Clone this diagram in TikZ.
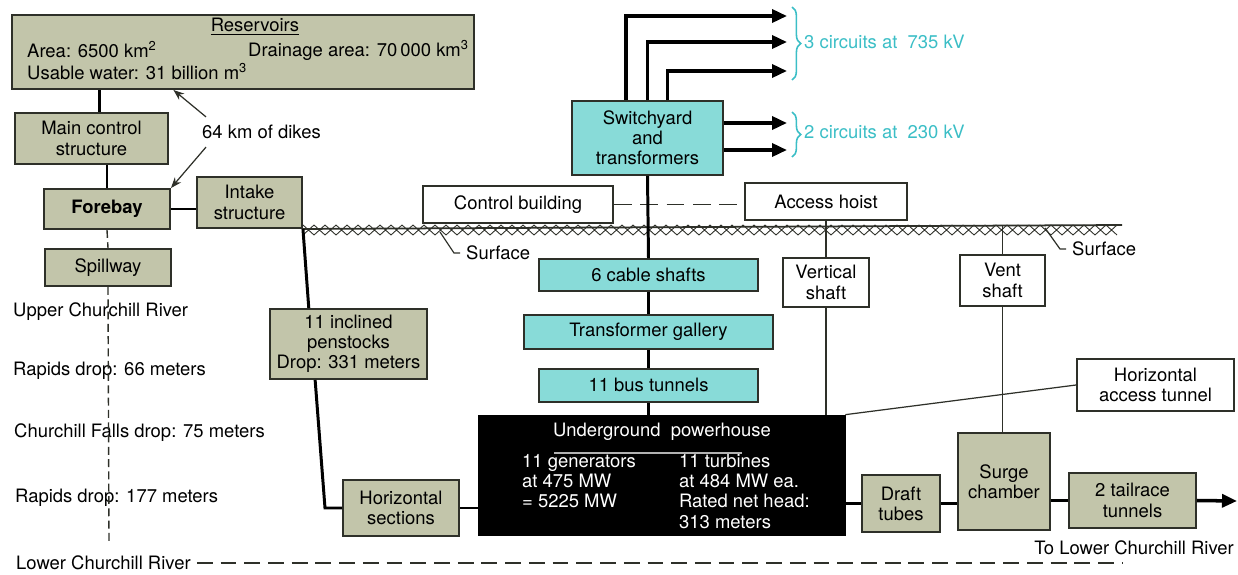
\documentclass[tikz,border=0pt]{standalone}
\usepackage{fontspec}
\setmainfont{TeX Gyre Heros}
\usepackage{xcolor}
\definecolor{sage}{HTML}{C2C5AA}
\definecolor{aqua}{HTML}{88DBD8}
\definecolor{circuit}{HTML}{3BBEC6}
\definecolor{ink}{HTML}{2E3029}
\usepackage{tikz}
\usetikzlibrary{arrows.meta, positioning, calc, decorations.pathreplacing}

\begin{document}
\begin{tikzpicture}[x=0.02cm, y=-0.02cm, >=Stealth,
  font=\fontsize{10.5}{11.5}\selectfont,
  gbox/.style={draw=ink, fill=sage, line width=1.1pt, inner sep=1pt, align=center},
  cbox/.style={draw=ink, fill=aqua, line width=1.1pt, inner sep=1pt, align=center},
  wbox/.style={draw=ink, fill=white, line width=1.1pt, inner sep=1pt, align=center},
  link/.style={line width=1.7pt, black},
  thinlink/.style={line width=0.7pt, ink},
  feed/.style={line width=2pt, -{Triangle[length=0.3cm, width=0.26cm]}},
  river/.style={line width=0.8pt, ink, dash pattern=on 4.5pt off 2.5pt},
  lowriver/.style={line width=0.8pt, ink, dash pattern=on 9pt off 4.5pt}]

  \useasboundingbox (0,0) rectangle (1238,575);

  % reservoir and intake side
  \node[gbox, minimum width=9.24cm, minimum height=1.48cm] (res) at (243,52) {};
  \node (reshead) at (255,27) {\underline{Reservoirs}};
  \node[anchor=west] (area) at (21,50) {Area: 6500 km\textsuperscript{2}};
  \node[anchor=west] (drain) at (242,50) {Drainage area: 70\,000 km\textsuperscript{3}};
  \node[anchor=west] (usable) at (21,72) {Usable water: 31 billion m\textsuperscript{3}};

  \node[gbox, minimum width=3.06cm, minimum height=1.02cm] (mcs) at (91.5,138.5) {Main control\\structure};
  \node[gbox, minimum width=2.52cm, minimum height=0.8cm] (fore) at (107,209) {\bfseries Forebay};
  \node[gbox, minimum width=2.1cm, minimum height=1.02cm] (intake) at (249.5,202.5) {Intake\\structure};
  \node[gbox, minimum width=2.52cm, minimum height=0.74cm] (spill) at (108,267.5) {Spillway};
  \node[anchor=west] (dikes) at (196,132) {64 km of dikes};

  \node[gbox, minimum width=3.14cm, minimum height=1.4cm] (pen) at (348.5,344) {11 inclined\\penstocks\\Drop: 331 meters};
  \node[gbox, minimum width=2.32cm, minimum height=1.12cm] (hsec) at (401,508) {Horizontal\\sections};

  % river profile
  \node[anchor=west] (upper) at (7,312) {Upper Churchill River};
  \node[anchor=west] (rap1) at (7,371) {Rapids drop: 66 meters};
  \node[anchor=west] (falls) at (8,433) {Churchill Falls drop: 75 meters};
  \node[anchor=west] (rap2) at (9,498) {Rapids drop: 177 meters};
  \node[anchor=west] (lower) at (10,563) {Lower Churchill River};
  \coordinate (riverfoot) at (109,543);
  \coordinate (riverend) at (1123,563);

  % surface works
  \node[cbox, minimum width=3.02cm, minimum height=1.48cm] (switch) at (647.5,138) {Switchyard\\and\\transformers};
  \node[wbox, minimum width=3.8cm, minimum height=0.74cm] (ctrl) at (518,204.5) {Control building};
  \node[wbox, minimum width=3.24cm, minimum height=0.74cm] (hoist) at (826,201.5) {Access hoist};
  \coordinate (out1) at (787,16);
  \coordinate (out2) at (787,42);
  \coordinate (out3) at (787,71);
  \coordinate (out4) at (787,123);
  \coordinate (out5) at (787,150);
  \node[anchor=west, text=circuit] (hv) at (798,42) {3 circuits at\ \ 735 kV};
  \node[anchor=west, text=circuit] (lv) at (798,132) {2 circuits at\ \ 230 kV};

  % underground works
  \coordinate (gnd) at (0,225);
  \coordinate (gndend) at (1122,225);
  \node[cbox, minimum width=4.38cm, minimum height=0.64cm] (cable) at (648.5,275) {6 cable shafts};
  \node[cbox, minimum width=4.98cm, minimum height=0.68cm, below=0.44cm of cable] (tgal) {Transformer gallery};
  \node[cbox, minimum width=4.38cm, minimum height=0.66cm, below=0.36cm of tgal] (bus) {11 bus tunnels};
  \node[wbox, minimum width=1.72cm, minimum height=0.98cm] (vshaft) at (826,282.5) {Vertical\\shaft};
  \node[wbox, minimum width=1.7cm, minimum height=1.02cm] (vent) at (1002.5,280.5) {Vent\\shaft};
  \node[wbox, minimum width=3.14cm, minimum height=1.04cm] (hacc) at (1155.5,385) {Horizontal\\access tunnel};
  \node[anchor=west] (surf1) at (460,253) {Surface};
  \node[anchor=west] (surf2) at (1066,249) {Surface};

  \node[draw=black, fill=black, minimum width=7.34cm, minimum height=2.4cm] (ph) at (661.5,475) {};
  \node[text=white] (phtitle) at (662,432) {Underground\ \ powerhouse};
  \node[text=white, anchor=north west, align=left, inner sep=1pt] (gen) at (520,452)
    {11 generators\\at 475 MW\\= 5225 MW};
  \node[text=white, anchor=north west, align=left, inner sep=1pt] (turb) at (677,452)
    {11 turbines\\at 484 MW ea.\\Rated net head:\\313 meters};

  \node[gbox, minimum width=1.56cm, minimum height=1.14cm] (draft) at (901,503.5) {Draft\\tubes};
  \node[gbox, minimum width=1.84cm, minimum height=1.94cm] (surge) at (1004,481.5) {Surge\\chamber};
  \node[gbox, minimum width=2.54cm, minimum height=1.1cm] (tail) at (1132.5,500.5) {2 tailrace\\tunnels};
  \coordinate (outflow) at (1237,501);
  \node[anchor=east] (tolower) at (1240,548) {To Lower Churchill River};

  % ground line with hatching
  \draw[line width=1pt, ink] (intake.south east) -- (gndend);
  \foreach \x in {303,314,...,1110}
    \draw[line width=0.5pt, ink] (\x,225) -- ++(11,10) (\x+11,225) -- ++(-11,10);
  \draw[thinlink] (surf1.west) -- ++(-6,0) -- (440,232);
  \draw[thinlink] (surf2.west) -- ++(-6,0) -- (1045,228);

  % connectors
  \draw[link] (res.south -| mcs.north) ++(8,0) -- ($(mcs.north)+(8,0)$);
  \draw[link] (mcs.south -| fore.north) -- (fore.north);
  \draw[link] (fore.east) -- (fore.east -| intake.west);
  \draw[thinlink, ->] ($(dikes.north west)+(10,-2)$) -- ($(res.south west)!0.35!(res.south east)$);
  \draw[thinlink, ->] ($(dikes.south west)+(10,2)$) -- (fore.north east);
  \draw[link] (intake.south east) -- ($(pen.north west)!0.25!(pen.north east)$);
  \draw[link] ($(pen.south west)!0.29!(pen.south east)$) -- (325,508) -- (hsec.west);
  \draw[link] (hsec.east) -- (hsec.east -| ph.west);

  \draw[river] (fore.south) -- (spill.north);
  \draw[river] (spill.south) -- (riverfoot);
  \draw[lowriver] (lower.east) -- (riverend);

  \draw[feed] ($(switch.north west)!0.36!(switch.north east)$) |- (out1);
  \draw[feed] (switch.north) |- (out2);
  \draw[feed] ($(switch.north west)!0.63!(switch.north east)$) |- (out3);
  \draw[feed] (out4 -| switch.east) -- (out4);
  \draw[feed] (out5 -| switch.east) -- (out5);
  \draw[circuit, line width=0.9pt, decorate, decoration={brace, amplitude=5pt}] (792,7) -- (792,80);
  \draw[circuit, line width=0.9pt, decorate, decoration={brace, amplitude=5pt}] (792,112) -- (792,157);

  \draw[thinlink, dash pattern=on 10pt off 5pt] (ctrl.east) -- (ctrl.east -| hoist.west);
  \draw[link] (switch.south) -- (cable.north);
  \draw[link] (cable.south) -- (tgal.north);
  \draw[link] (tgal.south) -- (bus.north);
  \draw[link] (bus.south) -- (bus.south |- ph.north);

  \draw[thinlink] (hoist.south) -- (vshaft.north);
  \draw[thinlink] (vshaft.south) -- (vshaft.south |- ph.north);
  \draw[thinlink] (vent.north |- gnd) -- (vent.north);
  \draw[thinlink] (vent.south) -- (vent.south |- surge.north);
  \draw[thinlink] (hacc.west) -- (ph.north east);

  \draw[gray!60, line width=1pt] ($(phtitle.south)+(-108,6)$) -- ($(phtitle.south)+(80,6)$);

  \draw[link] (draft.west -| ph.east) -- (draft.west);
  \draw[link] (draft.east) -- (draft.east -| surge.west);
  \draw[link] (tail.west -| surge.east) -- (tail.west);
  \draw[feed] (tail.east) -- (outflow);
\end{tikzpicture}
\end{document}
